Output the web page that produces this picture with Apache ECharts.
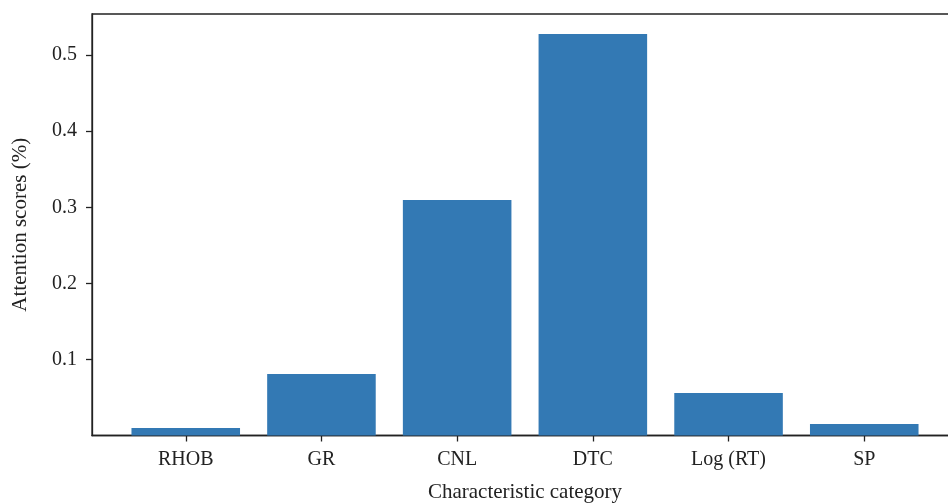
<!DOCTYPE html>
<html>
<head>
<meta charset="utf-8">
<script src="https://cdn.jsdelivr.net/npm/echarts@6/dist/echarts.min.js"></script>
<style>html,body{margin:0;padding:0;background:#fff;}#c{width:948px;height:504px;}</style>
</head>
<body>
<div id="c"></div>
<script>
const categories = ['RHOB', 'GR', 'CNL', 'DTC', 'Log (RT)', 'SP'];
const scores = [0.0099, 0.0808, 0.3095, 0.5276, 0.0558, 0.0151];
const yTickLabels = ['0.1', '0.2', '0.3', '0.4', '0.5'];
const xTitle = 'Characteristic category';
const yTitle = 'Attention scores (%)';

const FONT = '"Liberation Serif", "DejaVu Serif", serif';
const AX = '#222';
const YMAX = 0.554;
const chart = echarts.init(document.getElementById('c'), null, {renderer: 'canvas'});
chart.setOption({
  animation: false,
  backgroundColor: '#fff',
  grid: [
    {left: 92, right: -10, top: 14, bottom: 68.5, show: true, borderColor: AX, borderWidth: 1.3,
     backgroundColor: 'transparent', outerBoundsMode: 'none', containLabel: false},
    {left: 117.9, width: 814.2, top: 14, bottom: 68.5, outerBoundsMode: 'none', containLabel: false}
  ],
  xAxis: [
    {
      gridIndex: 0, type: 'value', min: 0, max: 1,
      axisLine: {show: true, lineStyle: {color: AX, width: 1.3}},
      axisTick: {show: false}, axisLabel: {show: false}, splitLine: {show: false},
      name: xTitle, nameLocation: 'middle', nameGap: 46,
      nameTextStyle: {fontFamily: FONT, fontSize: 21, color: '#222'}
    },
    {
      gridIndex: 1, type: 'category', data: categories,
      axisLine: {show: false},
      axisTick: {show: true, alignWithLabel: true, length: 6, lineStyle: {color: AX, width: 1.3}},
      axisLabel: {fontFamily: FONT, fontSize: 20, color: '#222', margin: 14},
      splitLine: {show: false}
    }
  ],
  yAxis: [
    {
      gridIndex: 0, type: 'value', min: 0, max: YMAX, interval: 0.1,
      axisLine: {show: true, lineStyle: {color: AX, width: 1.3}},
      axisTick: {show: true, length: 6, lineStyle: {color: AX, width: 1.3}},
      axisLabel: {
        fontFamily: FONT, fontSize: 20, color: '#222', margin: 15,
        showMinLabel: false, showMaxLabel: false,
        formatter: function (v) {
          const i = Math.round(v * 10) - 1;
          return (i >= 0 && i < yTickLabels.length && Math.abs(v - (i + 1) / 10) < 1e-6) ? yTickLabels[i] : '';
        }
      },
      splitLine: {show: false},
      name: yTitle, nameLocation: 'middle', nameGap: 61, nameRotate: 90,
      nameTextStyle: {fontFamily: FONT, fontSize: 21, color: '#222'}
    },
    {
      gridIndex: 1, type: 'value', min: 0, max: YMAX, show: false
    }
  ],
  series: [{
    type: 'bar', xAxisIndex: 1, yAxisIndex: 1,
    data: scores, barWidth: '80%',
    itemStyle: {color: '#3379b4'}
  }]
});
</script>
</body>
</html>
